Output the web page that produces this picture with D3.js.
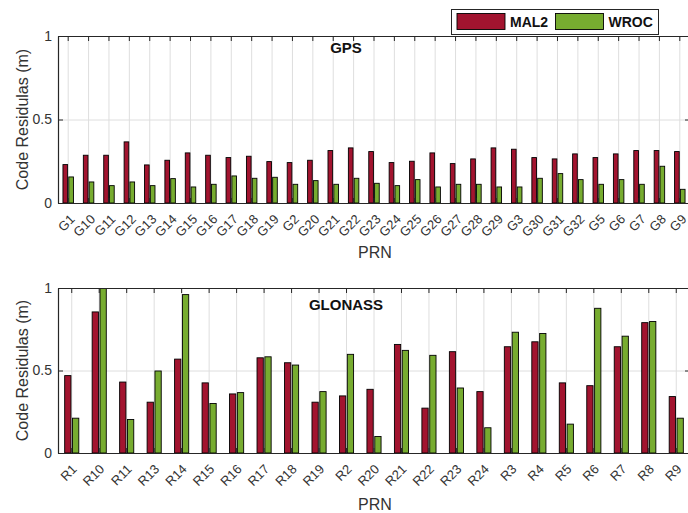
<!DOCTYPE html>
<html>
<head>
<meta charset="utf-8">
<script src="https://cdn.jsdelivr.net/npm/d3@7"></script>
<style>
  html, body { margin: 0; padding: 0; background: #fff; }
  svg { display: block; font-family: "Liberation Sans", Arial, sans-serif; }
</style>
</head>
<body>
<svg id="chart" width="688" height="513"></svg>
<script>
// Mean code residuals per satellite (m) for the two stations
const seriesNames = ["MAL2", "WROC"];
const seriesColors = ["#A2142F", "#77AC30"];
const yTicks = [0, 0.5, 1];

const gpsPRN = ["G1","G10","G11","G12","G13","G14","G15","G16","G17","G18","G19","G2","G20","G21","G22","G23","G24","G25","G26","G27","G28","G29","G3","G30","G31","G32","G5","G6","G7","G8","G9"];
const gpsMAL2 = [0.23,0.286,0.286,0.366,0.228,0.256,0.30,0.286,0.272,0.28,0.248,0.242,0.256,0.314,0.33,0.308,0.242,0.25,0.30,0.236,0.264,0.33,0.322,0.272,0.264,0.294,0.272,0.294,0.314,0.314,0.308];
const gpsWROC = [0.156,0.126,0.104,0.126,0.104,0.146,0.096,0.112,0.162,0.148,0.154,0.112,0.134,0.112,0.148,0.118,0.104,0.14,0.096,0.112,0.112,0.096,0.096,0.148,0.176,0.14,0.112,0.14,0.112,0.22,0.082];

const gloPRN = ["R1","R10","R11","R13","R14","R15","R16","R17","R18","R19","R2","R20","R21","R22","R23","R24","R3","R4","R5","R6","R7","R8","R9"];
const gloMAL2 = [0.469,0.855,0.43,0.308,0.569,0.425,0.358,0.577,0.547,0.308,0.346,0.386,0.658,0.272,0.614,0.372,0.644,0.674,0.425,0.408,0.644,0.79,0.342];
const gloWROC = [0.211,1.0,0.203,0.497,0.96,0.30,0.366,0.583,0.533,0.372,0.598,0.10,0.622,0.592,0.394,0.153,0.732,0.724,0.175,0.877,0.708,0.797,0.211];

const svg = d3.select("#chart");
const AXIS = "#262626";
const GRID = "#dedede";

function panel(cfg) {
  const { cats, values, top, bottom, left, right, title, titleX, titleY, xlabelY, id } = cfg;
  const x = d3.scaleBand().domain(cats).range([left, right]).paddingInner(0).paddingOuter(0);
  const y = d3.scaleLinear().domain([0, 1]).range([bottom, top]);
  const bw = x.bandwidth();
  const inner = d3.scaleBand().domain(seriesNames)
    .range([-0.257 * bw, 0.257 * bw]).paddingInner(0.2).paddingOuter(0);

  const g = svg.append("g");

  svg.append("clipPath").attr("id", id)
    .append("rect").attr("x", left).attr("y", top).attr("width", right - left).attr("height", bottom - top);

  // grid
  g.append("g").attr("transform", `translate(0,${bottom})`)
    .call(d3.axisBottom(x).tickSize(-(bottom - top)).tickSizeOuter(0).tickFormat(""))
    .call(s => { s.select(".domain").remove(); s.selectAll("line").attr("stroke", GRID); });
  g.append("g").attr("transform", `translate(${left},0)`)
    .call(d3.axisLeft(y).tickValues(yTicks).tickSize(-(right - left)).tickSizeOuter(0).tickFormat(""))
    .call(s => { s.select(".domain").remove(); s.selectAll("line").attr("stroke", GRID); });

  // bars
  const rows = cats.map((c, i) => ({ cat: c, vals: seriesNames.map((s, k) => ({ s, k, v: values[k][i] })) }));
  g.append("g").attr("clip-path", `url(#${id})`)
    .selectAll("g").data(rows).join("g")
    .attr("transform", d => `translate(${x(d.cat) + bw / 2},0)`)
    .selectAll("rect").data(d => d.vals).join("rect")
    .attr("x", d => inner(d.s))
    .attr("width", inner.bandwidth())
    .attr("y", d => y(d.v))
    .attr("height", d => y(0) - y(d.v))
    .attr("fill", d => seriesColors[d.k])
    .attr("stroke", "#000")
    .attr("stroke-width", 0.9);

  // box axes with inward ticks
  const styleAxis = s => {
    s.select(".domain").attr("stroke", AXIS);
    s.selectAll(".tick line").attr("stroke", AXIS);
  };
  const xb = g.append("g").attr("transform", `translate(0,${bottom})`)
    .call(d3.axisBottom(x).tickSize(-5).tickSizeOuter(0).tickPadding(0))
    .call(styleAxis);
  xb.selectAll(".tick text")
    .attr("fill", "#333")
    .attr("font-size", 13)
    .attr("text-anchor", "end")
    .attr("dy", 0)
    .attr("y", 0)
    .attr("transform", cfg.labelShift);
  g.append("g").attr("transform", `translate(0,${top})`)
    .call(d3.axisTop(x).tickSize(-5).tickSizeOuter(0).tickFormat(""))
    .call(styleAxis);
  const yl = g.append("g").attr("transform", `translate(${left},0)`)
    .call(d3.axisLeft(y).tickValues(yTicks).tickSize(-5).tickSizeOuter(0).tickPadding(6).tickFormat(d3.format("")))
    .call(styleAxis);
  yl.selectAll(".tick text").attr("fill", "#333").attr("font-size", 14);
  g.append("g").attr("transform", `translate(${right},0)`)
    .call(d3.axisRight(y).tickValues(yTicks).tickSize(-5).tickSizeOuter(0).tickFormat(""))
    .call(styleAxis);
  g.selectAll(".domain").attr("stroke-width", 1.2);

  // labels
  g.append("text").attr("x", titleX).attr("y", titleY)
    .attr("text-anchor", "middle").attr("font-weight", "bold").attr("font-size", 15)
    .attr("fill", "#111").text(title);
  g.append("text").attr("x", 375).attr("y", xlabelY)
    .attr("text-anchor", "middle").attr("font-size", 16).attr("fill", "#333").text("PRN");
  g.append("text")
    .attr("transform", `translate(28,${(top + bottom) / 2}) rotate(-90)`)
    .attr("text-anchor", "middle").attr("font-size", 16).attr("fill", "#333")
    .text("Code Residulas (m)");
}

panel({
  id: "clipGps", cats: gpsPRN, values: [gpsMAL2, gpsWROC],
  top: 36, bottom: 203, left: 58, right: 690,
  title: "GPS", titleX: 346, titleY: 53, xlabelY: 258,
  labelShift: "translate(7.5,17) rotate(-45)"
});
panel({
  id: "clipGlo", cats: gloPRN, values: [gloMAL2, gloWROC],
  top: 288, bottom: 453, left: 58, right: 690,
  title: "GLONASS", titleX: 346, titleY: 310, xlabelY: 510,
  labelShift: "translate(6,17) rotate(-45)"
});

// legend
const lg = svg.append("g");
lg.append("rect").attr("x", 451.5).attr("y", 9.5).attr("width", 207).attr("height", 25)
  .attr("fill", "#fff").attr("stroke", AXIS).attr("stroke-width", 1);
const items = seriesNames.map((s, k) => ({ s, k }));
const patchX = [457, 555.5];
const li = lg.selectAll("g.item").data(items).join("g").attr("class", "item");
li.append("rect")
  .attr("x", d => patchX[d.k]).attr("y", 13.5).attr("width", 48).attr("height", 16)
  .attr("fill", d => seriesColors[d.k]).attr("stroke", "#000").attr("stroke-width", 0.9);
li.append("text")
  .attr("x", d => patchX[d.k] + 53).attr("y", 27)
  .attr("font-size", 14).attr("font-weight", "bold").attr("fill", "#111")
  .text(d => d.s);
</script>
</body>
</html>
